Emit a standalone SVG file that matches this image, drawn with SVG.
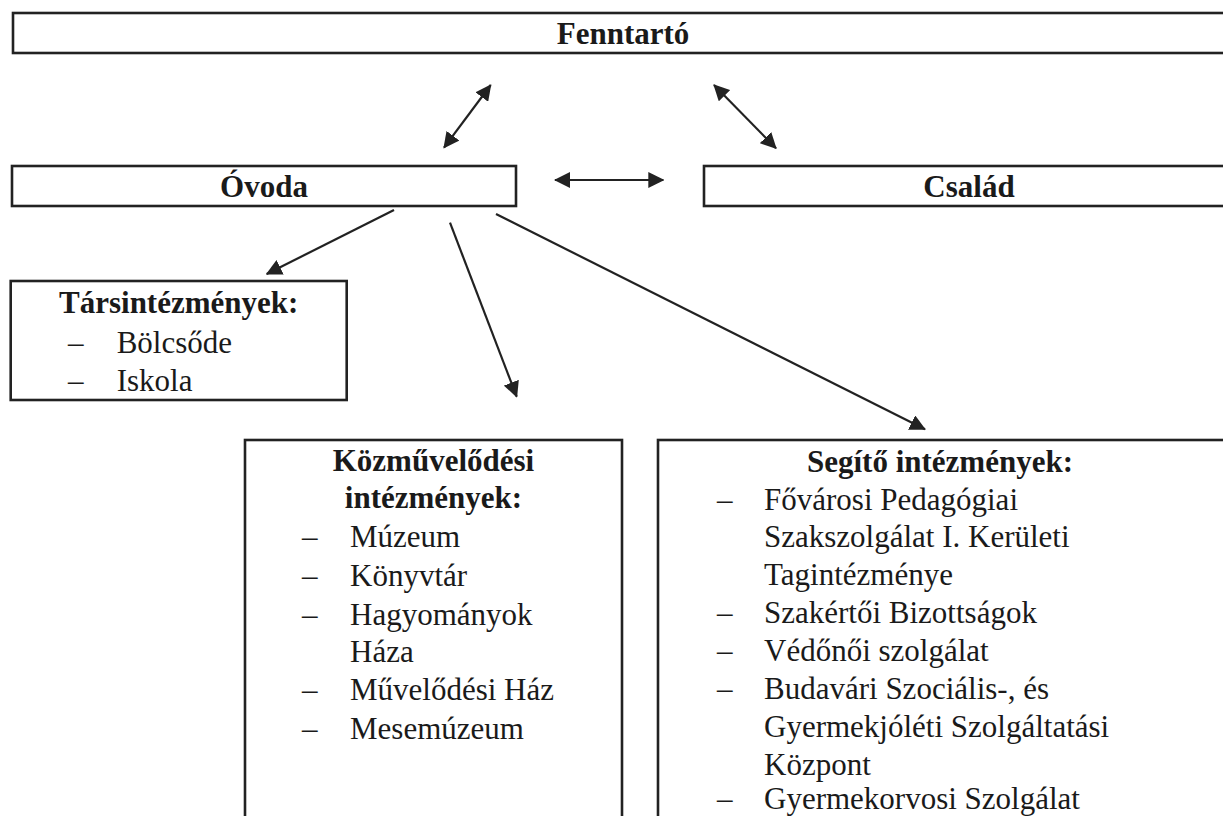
<svg xmlns="http://www.w3.org/2000/svg" width="1223" height="816" viewBox="0 0 1223 816">
<defs>
<style>
.box{fill:#fff;stroke:#222;stroke-width:2.6}
.con{stroke:#222;stroke-width:2.2;fill:none}
text{font-family:"Liberation Serif","Times New Roman",serif;font-size:31px;fill:#1a1a1a}
.b{font-weight:bold}
.c{text-anchor:middle}
</style>
<marker id="ah" viewBox="0 0 16 16" markerWidth="16" markerHeight="16" refX="15" refY="8" orient="auto-start-reverse" markerUnits="userSpaceOnUse">
<path d="M0,0 L16,8 L0,16 z" fill="#222"/>
</marker>
</defs>
<rect width="1223" height="816" fill="#fff"/>
<g id="connectors">
<line class="con" x1="490.7" y1="85" x2="444" y2="147.7" marker-start="url(#ah)" marker-end="url(#ah)"/>
<line class="con" x1="714" y1="85" x2="776" y2="148.3" marker-start="url(#ah)" marker-end="url(#ah)"/>
<line class="con" x1="555" y1="180" x2="663.3" y2="180" marker-start="url(#ah)" marker-end="url(#ah)"/>
<line class="con" x1="394" y1="210" x2="266.7" y2="274" marker-end="url(#ah)"/>
<line class="con" x1="450" y1="222.7" x2="516.7" y2="396.7" marker-end="url(#ah)"/>
<line class="con" x1="496" y1="214" x2="925" y2="429.3" marker-end="url(#ah)"/>
</g>
<g id="fenntarto">
<rect class="box" x="13" y="13" width="1221" height="40"/>
<text class="b c" x="623" y="44">Fenntartó</text>
</g>
<g id="ovoda">
<rect class="box" x="12" y="166" width="504" height="40"/>
<text class="b c" x="264" y="197">Óvoda</text>
</g>
<g id="csalad">
<rect class="box" x="704" y="166" width="530" height="40"/>
<text class="b c" x="969" y="197">Család</text>
</g>
<g id="tarsintezmenyek">
<rect class="box" x="10.7" y="281" width="336" height="119"/>
<text class="b c" x="178.7" y="313">Társintézmények:</text>
<text x="68" y="353">–</text><text x="116.7" y="353">Bölcsőde</text>
<text x="68" y="391">–</text><text x="116.7" y="391">Iskola</text>
</g>
<g id="kozmuvelodesi">
<rect class="box" x="245" y="440" width="377" height="400"/>
<text class="b c" x="433.5" y="471">Közművelődési</text>
<text class="b c" x="433.5" y="508">intézmények:</text>
<text x="302" y="547">–</text><text x="350" y="547">Múzeum</text>
<text x="302" y="586">–</text><text x="350" y="586">Könyvtár</text>
<text x="302" y="625">–</text><text x="350" y="625">Hagyományok</text>
<text x="350" y="662">Háza</text>
<text x="302" y="700">–</text><text x="350" y="700">Művelődési Ház</text>
<text x="302" y="739">–</text><text x="350" y="739">Mesemúzeum</text>
</g>
<g id="segito">
<rect class="box" x="658" y="440" width="600" height="400"/>
<text class="b c" x="940" y="472">Segítő intézmények:</text>
<text x="717" y="510">–</text><text x="764" y="510">Fővárosi Pedagógiai</text>
<text x="764" y="547">Szakszolgálat I. Kerületi</text>
<text x="764" y="585">Tagintézménye</text>
<text x="717" y="623">–</text><text x="764" y="623">Szakértői Bizottságok</text>
<text x="717" y="661">–</text><text x="764" y="661">Védőnői szolgálat</text>
<text x="717" y="699">–</text><text x="764" y="699">Budavári Szociális-, és</text>
<text x="764" y="737">Gyermekjóléti Szolgáltatási</text>
<text x="764" y="775">Központ</text>
<text x="717" y="809">–</text><text x="764" y="809">Gyermekorvosi Szolgálat</text>
</g>
</svg>
